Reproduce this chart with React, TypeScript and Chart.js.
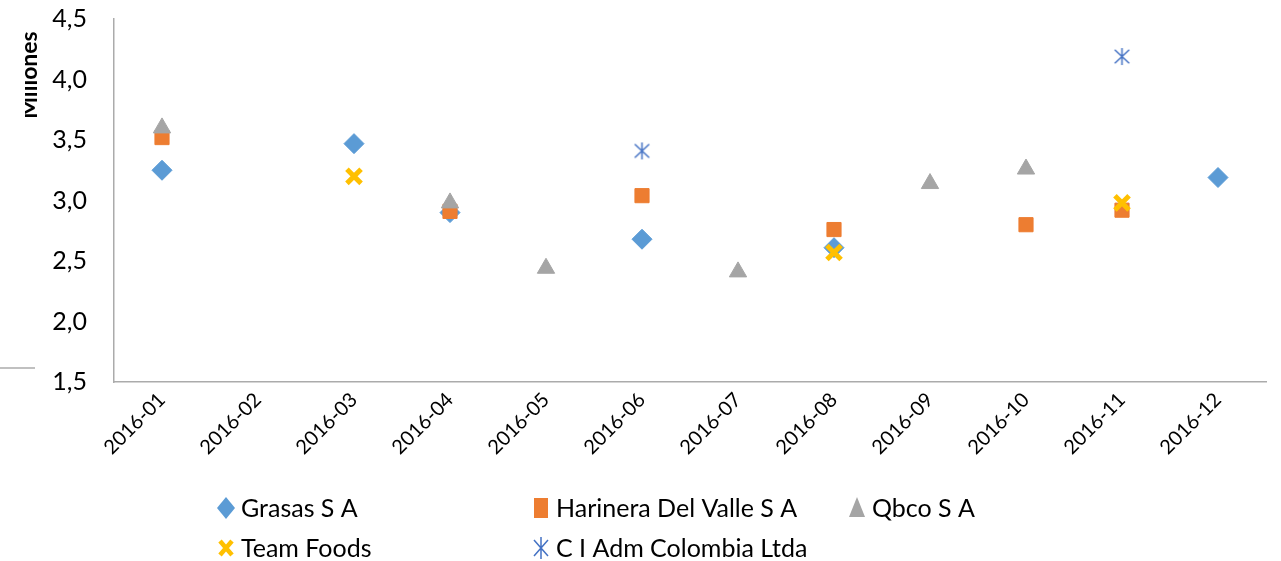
import React, { useEffect, useRef } from 'react';
import { Chart, registerables } from 'chart.js';

Chart.register(...registerables);

const categories = ['2016-01', '2016-02', '2016-03', '2016-04', '2016-05', '2016-06', '2016-07', '2016-08', '2016-09', '2016-10', '2016-11', '2016-12'];
const grasas = [3.25, null, 3.47, 2.9, null, 2.68, null, 2.61, null, null, null, 3.19];
const harinera = [3.52, null, null, 2.91, null, 3.04, null, 2.76, null, 2.8, 2.92, null];
const qbco = [3.6, null, null, 2.98, 2.44, null, 2.41, null, 3.14, 3.26, null, null];
const teamFoods = [null, null, 3.2, null, null, null, null, 2.57, null, null, 2.98, null];
const ciAdm = [null, null, null, null, null, 3.41, null, null, null, null, 4.19, null];
const yMin = 1.5;
const yMax = 4.5;
const yStep = 0.5;
const yTitle = 'Millones';
const seriesNames = ['Grasas S A', 'Harinera Del Valle S A', 'Qbco S A', 'Team Foods', 'C I Adm Colombia Ltda'];
const seriesColors = ['#5B9BD5', '#ED7D31', '#A5A5A5', '#FFC000', '#4472C4'];

const AXIS_COLOR = '#ABABAB';

function makeAsterisk(color: string, size: number, lw: number) {
  const c = document.createElement('canvas');
  c.width = size;
  c.height = size;
  const ctx = c.getContext('2d')!;
  ctx.strokeStyle = color;
  ctx.lineWidth = lw;
  const m = size / 2;
  const r = size / 2 - 1;
  ctx.beginPath();
  ctx.moveTo(m, m - r);
  ctx.lineTo(m, m + r);
  ctx.moveTo(m - r * 0.85, m - r * 0.8);
  ctx.lineTo(m + r * 0.85, m + r * 0.8);
  ctx.moveTo(m + r * 0.85, m - r * 0.8);
  ctx.lineTo(m - r * 0.85, m + r * 0.8);
  ctx.stroke();
  return c;
}

function drawMarker(ctx: CanvasRenderingContext2D, idx: number, x: number, y: number) {
  const color = seriesColors[idx];
  ctx.save();
  ctx.fillStyle = color;
  ctx.strokeStyle = color;
  ctx.beginPath();
  if (idx === 0) {
    ctx.moveTo(x, y - 11);
    ctx.lineTo(x + 9, y);
    ctx.lineTo(x, y + 11);
    ctx.lineTo(x - 9, y);
    ctx.closePath();
    ctx.fill();
  } else if (idx === 1) {
    ctx.rect(x - 7, y - 10, 14, 20);
    ctx.fill();
  } else if (idx === 2) {
    ctx.moveTo(x, y - 11);
    ctx.lineTo(x + 8, y + 9);
    ctx.lineTo(x - 8, y + 9);
    ctx.closePath();
    ctx.fill();
  } else if (idx === 3) {
    ctx.lineWidth = 4.5;
    ctx.moveTo(x - 6, y - 7);
    ctx.lineTo(x + 6, y + 7);
    ctx.moveTo(x + 6, y - 7);
    ctx.lineTo(x - 6, y + 7);
    ctx.stroke();
  } else {
    ctx.lineWidth = 1.5;
    ctx.moveTo(x, y - 11);
    ctx.lineTo(x, y + 11);
    ctx.moveTo(x - 7, y - 8);
    ctx.lineTo(x + 7, y + 8);
    ctx.moveTo(x + 7, y - 8);
    ctx.lineTo(x - 7, y + 8);
    ctx.stroke();
  }
  ctx.restore();
}

const decorPlugin = {
  id: 'decor',
  afterDraw(chart: any) {
    const ctx: CanvasRenderingContext2D = chart.ctx;
    // legend
    const cols = [226, 541, 857];
    const rows = [508, 548];
    ctx.save();
    ctx.font = '25px Lato';
    ctx.fillStyle = '#000';
    ctx.textBaseline = 'middle';
    ctx.textAlign = 'left';
    seriesNames.forEach((name, i) => {
      const col = i < 3 ? cols[i] : cols[i - 3];
      const row = i < 3 ? rows[0] : rows[1];
      drawMarker(ctx, i, col, row);
      ctx.fillText(name, col + 15, row + 1);
    });
    ctx.restore();

    // y-axis title (clipped at the left like the original)
    ctx.save();
    ctx.beginPath();
    ctx.rect(25, 0, 60, 200);
    ctx.clip();
    ctx.translate(37, 75);
    ctx.rotate(-Math.PI / 2);
    ctx.font = 'bold 23px Lato';
    ctx.fillStyle = '#000';
    ctx.textAlign = 'center';
    ctx.textBaseline = 'alphabetic';
    ctx.fillText(yTitle, 0, 0);
    ctx.restore();

    // stray short line at the left edge
    ctx.save();
    ctx.strokeStyle = AXIS_COLOR;
    ctx.lineWidth = 1.5;
    ctx.beginPath();
    ctx.moveTo(0, 368);
    ctx.lineTo(35, 368);
    ctx.stroke();
    ctx.restore();
  },
};

export default function App() {
  const ref = useRef<HTMLCanvasElement | null>(null);
  useEffect(() => {
    if (!ref.current) return;
    const asterisk = makeAsterisk(seriesColors[4], 19, 1.5);
    const values = [grasas, harinera, qbco, teamFoods, ciAdm];
    const styles: any[] = ['rectRot', 'rect', 'triangle', 'crossRot', asterisk];
    const radii = [10, 10, 10, 10, 10];
    const widths = [1, 1, 1, 5, 1];
    const chart = new Chart(ref.current, {
      type: 'line',
      data: {
        labels: categories,
        datasets: values.map((v, i) => ({
          label: seriesNames[i],
          data: v,
          showLine: false,
          pointStyle: styles[i],
          pointRadius: radii[i],
          pointHoverRadius: radii[i],
          pointBackgroundColor: seriesColors[i],
          pointBorderColor: seriesColors[i],
          pointBorderWidth: widths[i],
          backgroundColor: seriesColors[i],
          borderColor: seriesColors[i],
          order: 5 - i,
        })),
      },
      options: {
        responsive: false,
        animation: false,
        events: [],
        layout: { padding: { top: 19, right: 10, left: 0, bottom: 0 } },
        plugins: {
          legend: { display: false },
          tooltip: { enabled: false },
          title: { display: false },
        },
        scales: {
          x: {
            type: 'category',
            offset: true,
            grid: { display: false, drawTicks: false },
            border: { display: true, color: AXIS_COLOR, width: 1.5 },
            ticks: {
              autoSkip: false,
              minRotation: 45,
              maxRotation: 45,
              padding: 6,
              color: '#000',
              font: { family: 'Lato', size: 20 },
            },
            afterFit: (scale: any) => {
              scale.height = 179;
              scale.paddingLeft = 0;
              scale.paddingRight = 0;
            },
          },
          y: {
            min: yMin,
            max: yMax,
            grid: { display: false, drawTicks: false },
            border: { display: true, color: AXIS_COLOR, width: 1.5 },
            ticks: {
              stepSize: yStep,
              padding: 27,
              color: '#000',
              font: { family: 'Lato', size: 25 },
              callback: (v: any) => Number(v).toFixed(1).replace('.', ','),
            },
            afterFit: (scale: any) => {
              scale.width = 114;
              scale.paddingTop = 0;
              scale.paddingBottom = 0;
            },
          },
        },
      },
      plugins: [decorPlugin],
    });
    return () => chart.destroy();
  }, []);
  return (
    <div style={{ position: 'fixed', left: 0, top: 0, width: 1281, height: 561, background: '#fff' }}>
      <canvas ref={ref} width={1281} height={561} style={{ width: 1281, height: 561, display: 'block' }} />
    </div>
  );
}
